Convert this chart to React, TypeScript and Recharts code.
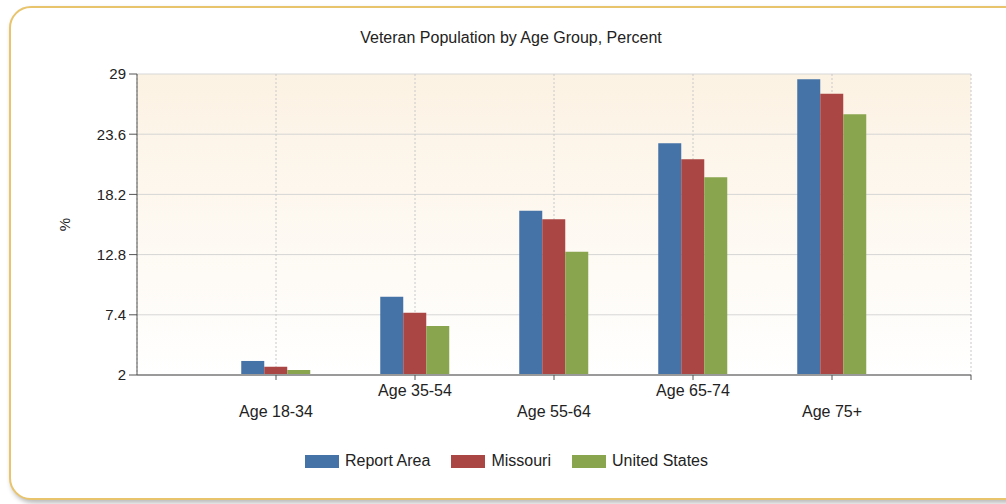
import React from 'react';
import { BarChart, Bar, XAxis, YAxis, CartesianGrid } from 'recharts';

const categories = ['Age 18-34', 'Age 35-54', 'Age 55-64', 'Age 65-74', 'Age 75+'];
const reportArea = [3.26, 9.02, 16.74, 22.78, 28.52];
const missouri = [2.74, 7.59, 15.97, 21.35, 27.23];
const unitedStates = [2.45, 6.4, 13.06, 19.73, 25.38];
const yTicks = [2, 7.4, 12.8, 18.2, 23.6, 29];
const xTicks = [1, 2, 3, 4, 5, 6];

const series = [
  { key: 'report', name: 'Report Area', color: '#4572a7' },
  { key: 'missouri', name: 'Missouri', color: '#aa4643' },
  { key: 'us', name: 'United States', color: '#89a54e' },
];

const chartData = categories.map((name, i) => ({
  pos: i + 1,
  name,
  report: reportArea[i],
  missouri: missouri[i],
  us: unitedStates[i],
}));

const FONT = '"Liberation Sans", Arial, sans-serif';

// staggered category labels, like the original
const AgeTick = (props: any) => {
  const { x, y, payload } = props;
  const idx = payload.value - 1;
  if (idx < 0 || idx >= categories.length) return null;
  const lower = idx % 2 === 0;
  return (
    <text
      x={x}
      y={y + (lower ? 35 : 14)}
      textAnchor="middle"
      fontSize={16}
      fontFamily={FONT}
      fill="#222"
    >
      {categories[idx]}
    </text>
  );
};

const PercentLabel = (props: any) => {
  const { viewBox } = props;
  const cx = viewBox.x + 14;
  const cy = viewBox.y + viewBox.height / 2;
  return (
    <text
      x={cx}
      y={cy}
      transform={`rotate(-90 ${cx} ${cy})`}
      textAnchor="middle"
      dominantBaseline="central"
      fontSize={15}
      fontFamily={FONT}
      fill="#222"
    >
      %
    </text>
  );
};

export default function App() {
  return (
    <div style={{ position: 'absolute', left: 0, top: 0, width: 1006, height: 504, overflow: 'hidden', background: '#fff' }}>
      <div
        style={{
          position: 'absolute',
          left: 9,
          top: 6,
          width: 1020,
          height: 490,
          border: '2px solid #e8c46c',
          borderRadius: 22,
          boxShadow: '2px 3px 5px rgba(0,0,0,0.28)',
          background: '#fff',
        }}
      />
      <div
        style={{
          position: 'absolute',
          left: 0,
          top: 29,
          width: 1022,
          textAlign: 'center',
          fontFamily: FONT,
          fontSize: 16,
          color: '#222',
        }}
      >
        Veteran Population by Age Group, Percent
      </div>
      <div style={{ position: 'absolute', left: 0, top: 0 }}>
        <BarChart
          width={1006}
          height={504}
          data={chartData}
          margin={{ top: 74, right: 35, bottom: 99, left: 50 }}
          barCategoryGap="25%"
          barGap={0}
        >
          <defs>
            <linearGradient id="plotBg" x1="0" y1="0" x2="0" y2="1">
              <stop offset="0%" stopColor="#fcf2e3" />
              <stop offset="100%" stopColor="#ffffff" />
            </linearGradient>
          </defs>
          <CartesianGrid vertical={false} stroke="#d6d6d6" fill="url(#plotBg)" fillOpacity={1} />
          <CartesianGrid horizontal={false} stroke="#c8c8c8" strokeDasharray="2 2" />
          <XAxis
            dataKey="pos"
            type="number"
            domain={[0, 6]}
            ticks={xTicks}
            interval={0}
            height={30}
            tick={<AgeTick />}
            tickSize={5}
            tickLine={{ stroke: '#555' }}
            axisLine={{ stroke: '#9a9a9a', strokeWidth: 2 }}
          />
          <YAxis
            domain={[2, 29]}
            ticks={yTicks}
            interval={0}
            width={87}
            tickSize={8}
            tickMargin={3}
            tick={{ fontSize: 15, fontFamily: FONT, fill: '#222' }}
            tickLine={{ stroke: '#555' }}
            axisLine={{ stroke: '#555' }}
            label={<PercentLabel />}
          />
          {series.map(s => (
            <Bar key={s.key} dataKey={s.key} name={s.name} fill={s.color} isAnimationActive={false} />
          ))}
        </BarChart>
      </div>
      <div
        style={{
          position: 'absolute',
          left: 0,
          top: 452,
          width: 1013,
          display: 'flex',
          justifyContent: 'center',
          gap: 21,
          fontFamily: FONT,
          fontSize: 16,
          color: '#222',
        }}
      >
        {series.map(s => (
          <div key={s.key} style={{ display: 'flex', alignItems: 'center' }}>
            <span style={{ display: 'inline-block', width: 34, height: 13, background: s.color, marginRight: 6 }} />
            <span>{s.name}</span>
          </div>
        ))}
      </div>
    </div>
  );
}
